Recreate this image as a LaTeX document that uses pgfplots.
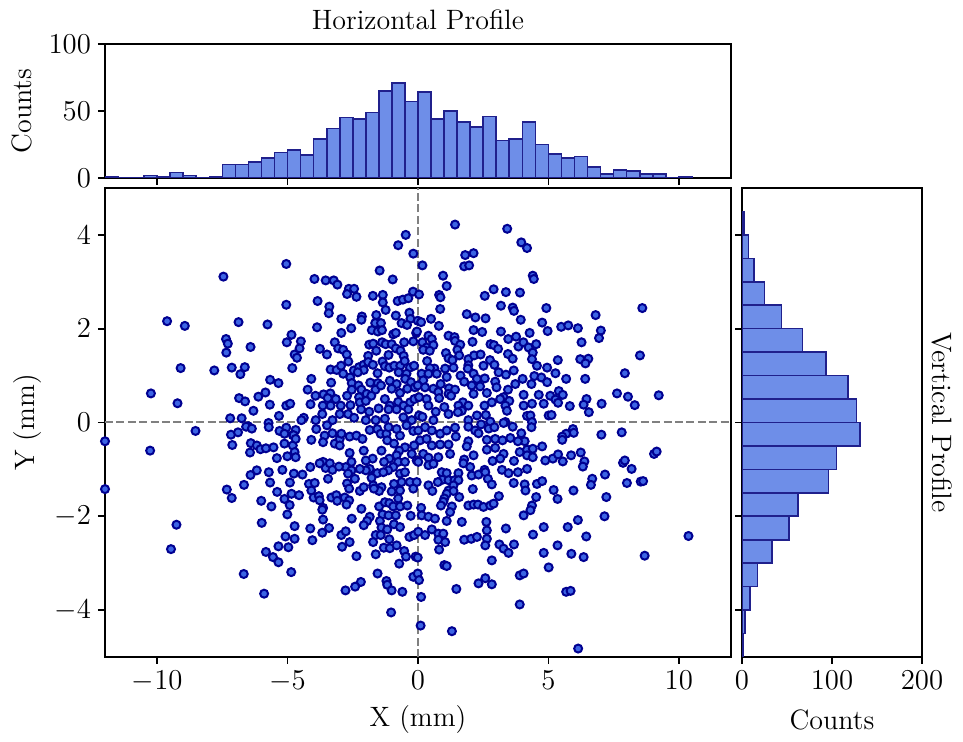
\documentclass[border=0pt]{standalone}
\usepackage{pgfplots}
\pgfplotsset{compat=1.18}
\definecolor{ptfill}{RGB}{60,100,228}
\definecolor{ptedge}{RGB}{0,0,145}
\definecolor{hfill}{RGB}{110,142,232}
\definecolor{hedge}{RGB}{32,32,140}
\definecolor{dgray}{RGB}{128,128,128}
\pgfplotsset{
  every axis/.append style={
    scale only axis,
    font=\fontsize{14}{17}\selectfont,
    tick align=outside,
    major tick length=3.5pt,
    axis line style={line width=0.85pt},
    every tick/.style={black, line width=0.85pt},
    xtick pos=left, ytick pos=left,
  },
}
\begin{document}
\begin{tikzpicture}
\useasboundingbox (0,0) rectangle (481.5pt,371pt);
% ---------------- main scatter
\begin{axis}[name=main, at={(52.5pt,42.5pt)}, anchor=south west,
  width=313pt, height=234.5pt,
  xmin=-12, xmax=12, ymin=-5, ymax=5,
  xtick={-10,-5,0,5,10}, ytick={-4,-2,0,2,4},
  xlabel={X (mm)}, ylabel={Y (mm)},
  every axis x label/.style={at={(axis description cs:0.5,-0.134)}, anchor=center},
  every axis y label/.style={at={(axis description cs:-0.123,0.5)}, rotate=90, anchor=center},
]
\addplot[only marks, mark=*, mark size=2.0pt,
  mark options={fill=ptfill, draw=ptedge, line width=1.0pt}] coordinates {
(-5.05,3.38) (-7.46,3.11) (-5.05,2.51) (-9.62,2.16) (-8.94,2.06) (-6.88,2.14) (-5.77,2.09) (-4.85,1.87) (-7.36,1.78) (-7.29,1.68) (-5.03,1.71) (-6.42,1.61) (-7.35,1.49) (-4.73,1.45) (-9.10,1.16) (-7.81,1.11) (-7.14,1.17) (-6.64,1.18) (-6.81,1.03) (-4.82,1.16) (-5.67,0.91) (-5.35,0.84) (-10.24,0.62) (-9.22,0.41) (-6.86,0.52) (-6.63,0.45) (-6.12,0.55) (-5.85,0.64) (-5.68,0.38) (-5.05,0.36) (-4.90,0.40) (-6.31,0.25) (-7.20,0.09) (-6.76,0.09) (-5.33,0.14) (-5.73,-0.01) (-6.51,-0.08)
(-0.47,4.00) (-0.76,3.78) (-0.18,3.60) (-1.47,3.24) (-0.97,3.05) (-3.97,3.06) (-3.54,3.03) (-3.23,3.03) (-3.09,2.94) (-2.65,2.85) (-2.45,2.85) (-2.72,2.74) (-2.36,2.68) (-1.73,2.70) (-1.35,2.72) (-1.35,2.56) (-1.24,2.40) (-0.78,2.59) (-0.58,2.62) (-0.37,2.65) (-0.19,2.79) (-3.85,2.59) (-3.40,2.47) (-3.42,2.33) (-2.94,2.21) (-2.15,2.26) (-2.17,2.19) (-1.60,2.29) (-0.85,2.28) (-0.33,2.34) (-0.29,2.21) (-0.63,2.12) (-0.42,2.08) (-1.64,2.12) (-1.42,2.12) (-1.77,1.97) (-1.54,1.94) (-1.38,1.97) (-3.87,2.03) (-2.56,2.01) (-2.94,1.91) (-0.95,1.88) (-0.85,1.91) (-0.07,1.91) (-4.49,1.73) (-4.54,1.58) (-4.64,1.38) (-3.19,1.71) (-3.06,1.58) (-2.87,1.55) (-3.76,1.57) (-3.49,1.45) (-2.73,1.45) (-2.67,1.30) (-1.87,1.66) (-1.72,1.68) (-1.38,1.71) (-1.24,1.67) (-1.60,1.53) (-1.01,1.67) (-0.85,1.58) (-0.53,1.71) (-0.18,1.73) (-0.67,1.53) (-1.13,1.44) (-0.55,1.42) (-1.91,1.42) (-3.35,1.13) (-3.12,1.12) (-2.95,1.21) (-2.87,1.04) (-2.46,1.11) (-2.26,1.18) (-2.08,1.23) (-1.91,1.29) (-1.73,1.23) (-2.08,1.12) (-2.31,1.07) (-1.55,1.05) (-1.36,1.30) (-1.27,1.20) (-1.10,1.17) (-0.91,1.21) (-0.68,1.21) (-0.51,1.31) (-0.31,1.17) (-0.15,1.21) (-0.74,1.07) (-0.44,1.04) (-4.09,0.93) (-3.33,0.85) (-2.60,0.96) (-2.54,0.84) (-4.23,0.70) (-3.93,0.57) (-3.62,0.60) (-3.36,0.62) (-3.46,0.52) (-2.28,0.79) (-2.17,0.70) (-2.54,0.70) (-1.83,0.85) (-1.54,0.84) (-1.63,0.70) (-1.42,0.79) (-1.08,0.89) (-0.82,0.82) (-0.49,0.93) (-0.27,0.86) (-1.01,0.72) (-0.69,0.63) (-0.41,0.72) (-0.12,0.75) (-1.97,0.61) (-1.79,0.57) (-2.26,0.54) (-2.72,0.57) (-3.15,0.50) (-2.96,0.36) (-4.12,0.39) (-3.65,0.36) (-3.35,0.36) (-2.59,0.37) (-2.23,0.43) (-2.00,0.46) (-1.51,0.30) (-1.27,0.50) (-1.08,0.36) (-1.13,0.28) (-0.76,0.44) (-0.55,0.36) (-0.30,0.43) (-0.14,0.50) (-0.37,0.28) (-0.82,0.28) (-3.67,0.18) (-3.00,0.18) (-2.68,0.18) (-2.45,0.10) (-2.18,0.28) (-1.87,0.23) (-4.38,0.10) (-4.47,0.05) (-3.92,0.05) (-3.28,0.05) (-2.00,0.05) (-1.62,0.05) (-1.27,0.08) (-0.56,0.11) (-0.24,0.05)
(1.42,4.22) (3.42,4.13) (3.96,3.84) (4.18,3.72) (1.81,3.57) (2.13,3.61) (1.77,3.33) (1.96,3.35) (0.17,3.35) (0.96,3.13) (1.10,2.91) (4.40,3.13) (4.44,3.06) (2.90,2.84) (3.37,2.78) (3.91,2.77) (2.56,2.70) (0.81,2.72) (0.86,2.67) (0.04,2.73) (0.85,2.42) (1.87,2.31) (2.20,2.24) (2.59,2.22) (3.18,2.49) (3.63,2.45) (3.68,2.38) (3.94,2.19) (4.92,2.44) (4.76,2.13) (4.97,1.95) (4.28,1.91) (3.18,1.94) (2.46,1.93) (2.13,1.97) (2.09,1.72) (-0.01,2.17) (0.12,2.14) (0.50,2.21) (0.80,2.06) (-0.04,1.94) (0.40,1.85) (0.53,1.78) (0.17,1.71) (0.33,1.60) (0.59,1.65) (0.20,1.55) (0.45,1.53) (1.17,1.85) (1.40,1.82) (1.42,1.74) (1.62,1.66) (1.51,1.55) (1.58,1.43) (1.07,1.48) (1.17,1.37) (1.32,1.33) (0.35,1.31) (1.93,1.35) (2.15,1.43) (2.40,1.45) (2.78,1.67) (2.91,1.65) (3.07,1.57) (3.46,1.78) (3.76,1.83) (3.45,1.46) (3.63,1.36) (3.85,1.62) (4.04,1.71) (4.24,1.60) (4.40,1.49) (4.53,1.67) (4.37,1.35) (4.56,1.21) (4.95,1.17) (1.93,1.22) (1.91,1.15) (2.51,1.21) (2.76,1.33) (2.93,1.23) (3.09,1.07) (3.37,1.02) (3.67,1.11) (0.63,1.15) (0.46,1.16) (1.04,1.15) (1.36,1.17) (0.14,1.04) (0.40,1.04) (0.72,1.04) (1.10,0.97) (1.63,1.00) (1.77,0.87) (2.13,1.04) (2.26,0.93) (2.56,0.94) (2.96,0.87) (0.20,0.90) (-0.01,0.79) (0.27,0.75) (0.59,0.72) (0.87,0.82) (1.19,0.73) (1.42,0.70) (1.17,0.61) (0.78,0.65) (0.33,0.50) (0.04,0.54) (0.81,0.52) (1.27,0.57) (2.06,0.79) (2.38,0.77) (2.13,0.61) (2.64,0.63) (3.01,0.75) (3.45,0.70) (3.73,0.82) (4.01,0.93) (4.35,0.82) (4.46,0.99) (4.73,0.96) (4.95,0.86) (4.05,0.59) (4.63,0.59) (3.28,0.54) (3.50,0.46) (3.15,0.50) (1.72,0.43) (1.93,0.36) (1.55,0.36) (2.55,0.36) (2.83,0.43) (0.40,0.36) (0.68,0.23) (1.01,0.33) (1.17,0.18) (1.68,0.25) (1.53,0.22) (2.26,0.15) (2.60,0.16) (3.35,0.36) (3.41,0.25) (4.05,0.36) (4.37,0.40) (4.82,0.40) (4.18,0.14) (4.31,0.15) (5.01,0.15) (0.04,0.15) (0.17,0.12) (0.59,0.05) (1.93,0.05) (2.77,0.02) (3.35,0.01) (4.37,0.01)
(8.60,2.44) (6.81,2.29) (5.49,2.04) (5.76,2.07) (6.13,2.01) (7.01,1.96) (6.94,1.80) (6.27,1.71) (8.51,1.43) (5.36,1.33) (6.22,1.35) (6.53,1.36) (6.42,1.26) (5.27,1.05) (7.93,1.05) (5.68,0.93) (6.41,0.93) (5.40,0.67) (5.55,0.59) (5.07,0.57) (5.27,0.49) (5.37,0.42) (6.46,0.50) (6.35,0.38) (5.82,0.35) (7.04,0.40) (7.63,0.62) (8.05,0.55) (8.31,0.37) (9.23,0.58) (6.55,0.22) (5.12,0.16)
(-12.0,-0.40) (-12.0,-1.42) (-8.53,-0.18) (-10.27,-0.60) (-9.26,-2.18) (-9.47,-2.70) (-7.17,-0.26) (-6.90,-0.21) (-7.12,-0.48) (-6.59,-0.09) (-6.37,-0.13) (-5.72,-0.10) (-5.31,-0.18) (-5.05,-0.11) (-5.12,-0.24) (-4.80,-0.27) (-6.41,-0.44) (-6.18,-0.49) (-6.04,-0.57) (-5.83,-0.55) (-5.54,-0.53) (-6.44,-0.64) (-5.12,-0.45) (-4.80,-0.49) (-5.41,-0.76) (-5.01,-0.72) (-4.73,-0.63) (-6.18,-1.02) (-6.42,-1.12) (-5.72,-1.06) (-5.20,-1.01) (-4.76,-1.09) (-6.67,-1.33) (-7.33,-1.43) (-7.14,-1.61) (-5.67,-1.28) (-4.91,-1.28) (-5.40,-1.48) (-4.85,-1.52) (-5.12,-1.63) (-4.92,-1.76) (-6.01,-1.67) (-5.62,-1.79) (-5.01,-1.96) (-5.99,-2.14) (-4.73,-2.21) (-5.08,-2.43) (-4.73,-2.48) (-5.35,-2.64) (-4.97,-2.66) (-5.83,-2.76) (-5.56,-2.87) (-5.35,-2.98) (-4.86,-3.19) (-6.68,-3.23) (-5.90,-3.65)
(-4.69,-0.16) (-4.77,-0.27) (-4.69,-0.35) (-3.90,-0.14) (-4.09,-0.37) (-3.49,-0.06) (-3.58,-0.28) (-3.64,-0.42) (-3.28,-0.23) (-3.19,-0.45) (-3.00,-0.35) (-2.94,-0.24) (-3.00,-0.49) (-2.62,-0.30) (-2.36,-0.28) (-2.13,-0.35) (-1.85,-0.16) (-1.56,-0.14) (-1.43,-0.24) (-1.21,-0.24) (-1.13,-0.10) (-1.18,-0.38) (-0.82,-0.14) (-0.69,-0.28) (-0.44,-0.06) (-0.18,-0.18) (-0.92,-0.45) (-0.50,-0.53) (-0.72,-0.60) (-0.15,-0.49) (-0.24,-0.67) (-0.05,-0.81) (-1.40,-0.60) (-1.10,-0.77) (-0.82,-0.70) (-1.30,-0.84) (-0.76,-0.84) (-0.50,-0.84) (-0.95,-0.95) (-1.14,-1.02) (-0.69,-1.09) (-0.50,-1.06) (-0.31,-1.27) (-0.05,-1.27) (-0.18,-1.41) (-0.63,-1.27) (-0.92,-1.31) (-1.01,-1.47) (-0.69,-1.45) (-1.40,-1.38) (-1.49,-1.46) (-1.72,-1.34) (-1.69,-1.41) (-2.08,-0.60) (-1.74,-0.77) (-2.00,-0.81) (-1.85,-0.99) (-1.56,-1.08) (-1.33,-1.06) (-1.78,-1.18) (-2.00,-1.02) (-2.23,-0.99) (-2.55,-0.84) (-2.62,-0.65) (-2.77,-0.95) (-2.55,-1.02) (-2.68,-1.09) (-2.42,-1.20) (-2.72,-1.30) (-2.64,-1.41) (-2.23,-1.46) (-2.08,-1.38) (-3.64,-0.84) (-3.54,-0.97) (-3.38,-0.87) (-3.28,-1.01) (-3.03,-0.94) (-3.77,-0.87) (-4.13,-0.95) (-4.43,-1.11) (-4.69,-0.74) (-3.45,-1.20) (-4.18,-1.31) (-3.96,-1.29) (-4.09,-1.45) (-4.56,-1.55) (-4.00,-1.60) (-3.80,-1.57) (-3.77,-1.66) (-3.32,-1.60) (-3.13,-1.55) (-3.10,-1.67) (-2.81,-1.60) (-2.64,-1.66) (-2.74,-1.75) (-3.64,-1.82) (-3.67,-1.86) (-2.17,-1.84) (-1.49,-1.79) (-1.27,-1.70) (-1.10,-1.72) (-0.76,-1.62) (-0.95,-1.79) (-0.69,-1.79) (-0.41,-1.77) (-1.36,-1.96) (-1.13,-1.98) (-0.85,-1.98) (-0.28,-1.99) (-1.46,-2.10) (-1.40,-2.24) (-1.18,-2.28) (-0.92,-2.17) (-0.69,-2.23) (-1.85,-2.01) (-1.95,-2.10) (-2.08,-2.19) (-2.54,-2.05) (-3.64,-2.07) (-4.13,-2.26) (-3.67,-2.35) (-3.41,-2.25) (-4.05,-2.51) (-2.94,-2.40) (-2.77,-2.32) (-2.62,-2.55) (-2.91,-2.65) (-2.36,-2.85) (-1.62,-2.40) (-1.72,-2.55) (-1.43,-2.40) (-1.10,-2.49) (-1.31,-2.67) (-1.08,-2.68) (-0.82,-2.62) (-0.53,-2.74) (-0.46,-2.86) (-1.62,-2.81) (-0.33,-2.44) (-0.15,-2.40) (-0.72,-3.01) (-0.09,-2.86) (-1.55,-3.22) (-2.19,-3.40) (-2.41,-3.50) (-2.78,-3.58) (-1.21,-3.38) (-1.18,-3.46) (-1.01,-3.58) (-0.60,-3.61) (-1.03,-4.05) (-0.18,-3.29)
(0.27,-0.10) (0.53,-0.17) (0.85,-0.24) (1.10,-0.17) (1.42,-0.11) (1.93,-0.09) (2.19,-0.17) (2.42,-0.04) (2.71,-0.13) (2.93,-0.10) (3.28,-0.01) (3.63,-0.09) (3.96,-0.23) (4.09,-0.40) (4.35,-0.10) (0.01,-0.17) (0.08,-0.38) (0.33,-0.35) (0.53,-0.49) (0.85,-0.47) (1.17,-0.47) (1.23,-0.67) (1.45,-0.30) (1.93,-0.40) (1.87,-0.51) (2.32,-0.23) (2.64,-0.37) (2.96,-0.35) (2.64,-0.58) (2.96,-0.54) (3.24,-0.38) (3.54,-0.33) (3.83,-0.40) (3.90,-0.63) (4.18,-0.58) (4.40,-0.56) (4.76,-0.51) (4.18,-0.70) (4.40,-0.74) (4.88,-0.81) (3.28,-0.67) (3.15,-0.77) (2.86,-0.82) (3.68,-0.82) (0.20,-0.67) (0.01,-0.84) (0.40,-0.75) (0.78,-0.74) (0.40,-0.91) (0.59,-0.88) (1.77,-0.79) (2.13,-0.70) (1.74,-0.87) (2.00,-0.95) (2.55,-1.01) (3.22,-1.01) (3.47,-1.08) (3.83,-1.06) (4.18,-0.99) (0.91,-1.06) (1.10,-1.08) (1.55,-1.08) (2.06,-1.13) (2.32,-1.11) (2.58,-1.06) (0.94,-1.22) (1.17,-1.23) (1.40,-1.23) (1.55,-1.23) (0.76,-1.27) (0.40,-1.34) (0.55,-1.46) (1.36,-1.34) (1.17,-1.45) (1.36,-1.46) (2.68,-1.20) (2.83,-1.32) (3.67,-1.29) (4.09,-1.32) (4.12,-1.45) (4.56,-1.31) (4.76,-1.25) (2.10,-1.42) (4.53,-1.59) (1.10,-1.52) (1.01,-1.62) (0.97,-1.69) (0.88,-1.77) (1.30,-1.79) (1.58,-1.59) (1.93,-1.77) (2.13,-1.75) (2.30,-1.75) (2.51,-1.80) (2.77,-1.77) (2.90,-1.73) (3.10,-1.57) (0.12,-1.82) (1.23,-1.91) (0.14,-1.98) (0.40,-2.01) (0.65,-2.05) (1.10,-2.10) (1.68,-2.12) (2.62,-2.12) (4.37,-1.77) (4.31,-1.87) (4.05,-1.98) (2.64,-2.30) (3.37,-2.26) (4.82,-2.23) (0.01,-2.33) (0.27,-2.40) (0.53,-2.28) (0.78,-2.37) (0.97,-2.37) (0.78,-2.50) (1.04,-2.55) (1.77,-2.50) (2.04,-2.48) (2.26,-2.44) (2.64,-2.48) (2.58,-2.62) (3.12,-2.60) (3.28,-2.69) (3.47,-2.78) (3.68,-2.60) (4.41,-2.39) (0.81,-2.71) (4.82,-2.78) (-0.01,-2.88) (2.83,-2.94) (1.01,-3.04) (1.10,-3.06) (5.01,-3.09) (-0.01,-3.22) (0.04,-3.36) (2.58,-3.32) (2.32,-3.43) (2.83,-3.45) (3.90,-3.26) (4.05,-3.22) (1.47,-3.55) (0.12,-3.72) (3.90,-3.88) (0.10,-4.33) (1.30,-4.45)
(5.94,-0.14) (5.97,-0.22) (5.68,-0.24) (5.53,-0.30) (5.53,-0.37) (7.03,-0.26) (7.81,-0.21) (5.17,-0.77) (5.37,-0.68) (5.55,-0.83) (5.87,-0.70) (6.24,-0.64) (6.38,-0.83) (6.32,-0.94) (7.17,-1.11) (6.68,-1.20) (6.63,-1.33) (7.86,-0.86) (7.93,-0.81) (8.19,-0.99) (9.05,-0.67) (9.15,-0.62) (8.01,-1.29) (8.54,-1.26) (8.63,-1.25) (5.20,-1.44) (5.96,-1.45) (5.35,-1.63) (7.22,-1.59) (7.15,-2.00) (6.13,-2.08) (5.74,-2.23) (6.45,-2.43) (10.37,-2.42) (5.35,-2.62) (5.88,-2.80) (6.35,-2.87) (8.69,-2.84) (5.68,-3.61) (5.85,-3.59) (6.14,-4.82)
};
\addplot[dgray, line width=1pt, dash pattern=on 4pt off 1.7pt] coordinates {(-12,0) (12,0)};
\addplot[dgray, line width=1pt, dash pattern=on 4pt off 1.7pt] coordinates {(0,-5) (0,5)};
\end{axis}
% ---------------- top histogram
\begin{axis}[at={(52.5pt,282pt)}, anchor=south west,
  width=313pt, height=67pt,
  xmin=-12, xmax=12, ymin=0, ymax=100,
  xtick={-10,-5,0,5,10}, xticklabels={},
  ytick={0,50,100},
  ylabel={Counts}, title={Horizontal Profile},
  every axis y label/.style={at={(axis description cs:-0.1326,0.5)}, rotate=90, anchor=center},
  every axis title/.style={at={(axis description cs:0.5,1.179)}, anchor=center},
]
\addplot[ybar interval, fill=hfill, draw=hedge, line width=0.8pt] coordinates {
(-12,1) (-11.5,0) (-11,0) (-10.5,2) (-10,1) (-9.5,4) (-9,2) (-8.5,0) (-8,1) (-7.5,10)
(-7,10) (-6.5,12) (-6,15) (-5.5,19) (-5,21) (-4.5,17) (-4,29) (-3.5,37) (-3,45) (-2.5,44)
(-2,49) (-1.5,65) (-1,71) (-0.5,57) (0,64) (0.5,44) (1,50) (1.5,42) (2,38) (2.5,46)
(3,28) (3.5,29) (4,42) (4.5,25) (5,18) (5.5,15) (6,16) (6.5,8) (7,3) (7.5,6)
(8,5) (8.5,3) (9,3) (9.5,0) (10,1) (10.5,1)
};
\end{axis}
% ---------------- right histogram
\begin{axis}[at={(371pt,42.5pt)}, anchor=south west,
  width=90pt, height=234.5pt,
  xmin=0, xmax=200, ymin=-5, ymax=5,
  xtick={0,100,200},
  ytick={-4,-2,0,2,4}, yticklabels={},
  xlabel={Counts}, ylabel={Vertical Profile},
  every axis x label/.style={at={(axis description cs:0.5,-0.134)}, anchor=center},
  every axis y label/.style={at={(axis description cs:1.111,0.5)}, rotate=-90, anchor=center},
]
\addplot[xbar interval, fill=hfill, draw=hedge, line width=0.8pt] coordinates {
(1,-5) (3,-4.5) (9,-4) (17,-3.5) (33,-3) (52,-2.5) (62,-2) (96,-1.5) (105,-1) (131,-0.5)
(127,0) (118,0.5) (93,1) (67,1.5) (44,2) (25,2.5) (13,3) (7,3.5) (2,4) (2,4.5)
};
\end{axis}
\end{tikzpicture}
\end{document}
